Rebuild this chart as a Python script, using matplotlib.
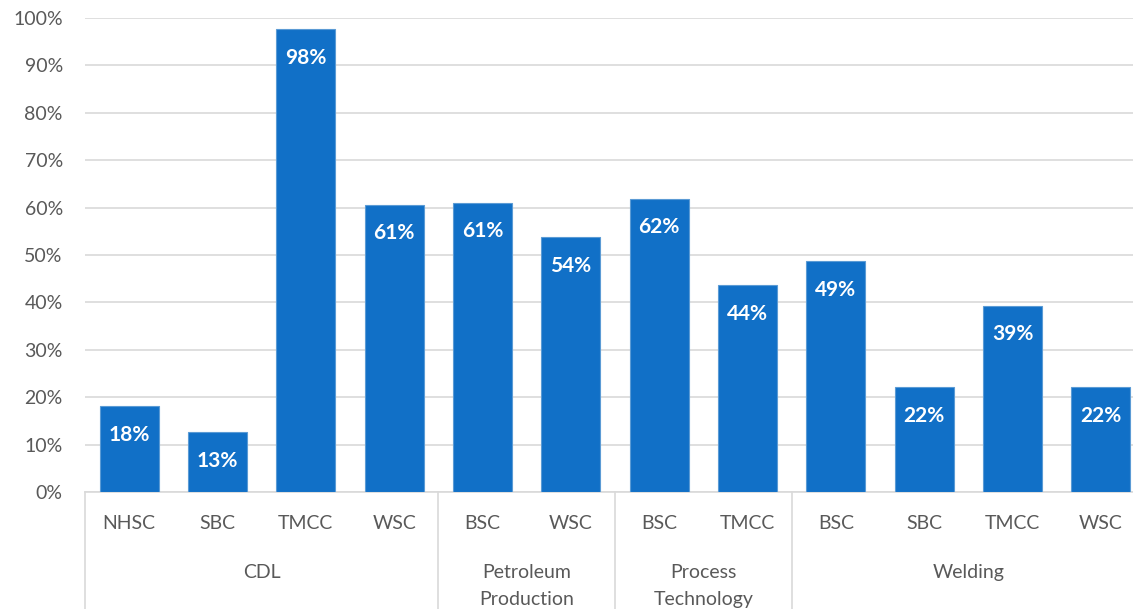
import matplotlib
matplotlib.use("Agg")
import matplotlib.pyplot as plt
from matplotlib.ticker import PercentFormatter
from matplotlib.transforms import blended_transform_factory

# programs by college, grouped by field
groups = ["CDL", "Petroleum\nProduction", "Process\nTechnology", "Welding"]
colleges = [
    ["NHSC", "SBC", "TMCC", "WSC"],
    ["BSC", "WSC"],
    ["BSC", "TMCC"],
    ["BSC", "SBC", "TMCC", "WSC"],
]
rates = [
    [0.181, 0.126, 0.976, 0.606],
    [0.610, 0.537],
    [0.619, 0.436],
    [0.487, 0.221, 0.393, 0.221],
]

BLUE = "#1170C7"
EDGE = "#5B9BD5"
GRID = "#D9D9D9"
TEXT = "#595959"
FONT = ["Lato", "DejaVu Sans"]

plt.rcParams["font.family"] = FONT

labels = [c for g in colleges for c in g]
values = [v for g in rates for v in g]
xs = list(range(len(values)))

fig = plt.figure(figsize=(11.33, 6.09), dpi=100)
ax = fig.add_axes([85 / 1133, 117 / 609, 1060 / 1133, 474 / 609])

bars = ax.bar(xs, values, width=0.67, color=BLUE, edgecolor=EDGE, linewidth=0.8, zorder=3)
for b, v in zip(bars, values):
    ax.annotate(f"{v:.0%}", (b.get_x() + b.get_width() / 2, v),
                xytext=(0, -20.5), textcoords="offset points",
                ha="center", va="center", color="white",
                fontsize=15, fontweight="bold", zorder=4)

ax.set_xlim(-0.5, len(values) - 0.5)
ax.set_ylim(0, 1.0)
ax.set_yticks([i / 10 for i in range(11)])
ax.yaxis.set_major_formatter(PercentFormatter(1.0, decimals=0))
ax.grid(axis="y", color=GRID, linewidth=1.2, zorder=0)
ax.tick_params(axis="y", length=0, pad=16, labelsize=14, labelcolor=TEXT)
ax.set_xticks(xs, labels)
ax.tick_params(axis="x", length=0, pad=16.5, labelsize=14, labelcolor=TEXT)

for side in ["top", "right", "left"]:
    ax.spines[side].set_visible(False)
ax.spines["bottom"].set_color(GRID)
ax.spines["bottom"].set_linewidth(1.2)

# group separators and group names below the college labels
trans = blended_transform_factory(ax.transData, ax.transAxes)
start = 0
bounds = [-0.5]
for name, members in zip(groups, colleges):
    end = start + len(members)
    bounds.append(end - 0.5)
    ax.text((start + end - 1) / 2, -0.152, name, transform=trans,
            ha="center", va="top", fontsize=14, color=TEXT, linespacing=1.7)
    start = end
for bx in bounds:
    ax.plot([bx, bx], [0, -0.26], transform=trans, color=GRID,
            linewidth=1.2, clip_on=False)

fig.savefig("out.png", dpi=100, facecolor="white")
